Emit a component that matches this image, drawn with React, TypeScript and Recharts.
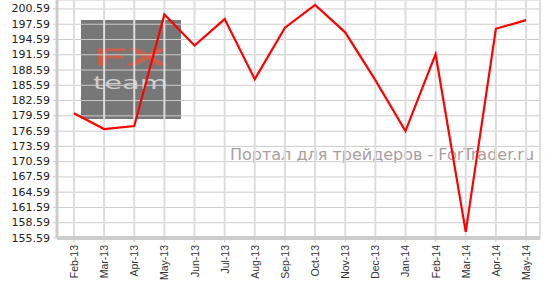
import { CartesianGrid, Line, LineChart, XAxis, YAxis } from "recharts"

const months = [
  "Feb-13", "Mar-13", "Apr-13", "May-13", "Jun-13", "Jul-13", "Aug-13", "Sep-13",
  "Oct-13", "Nov-13", "Dec-13", "Jan-14", "Feb-14", "Mar-14", "Apr-14", "May-14",
]

const prices = [
  180.1, 177.0, 177.6, 199.5, 193.4, 198.6, 186.8, 196.9,
  201.4, 196.0, 186.6, 176.6, 191.7, 156.8, 196.7, 198.4,
]

const yTicks = [
  155.59, 158.59, 161.59, 164.59, 167.59, 170.59, 173.59, 176.59,
  179.59, 182.59, 185.59, 188.59, 191.59, 194.59, 197.59, 200.59,
]

const data = months.map((m, i) => ({ month: m, price: prices[i] }))

function MonthTick({ x, y, payload }: { x?: number; y?: number; payload?: { value: string } }) {
  return (
    <text
      transform={`translate(${x},${(y ?? 0) + 1}) rotate(-90)`}
      textAnchor="end"
      dominantBaseline="central"
      fontFamily="'Liberation Sans', Arial, sans-serif"
      fontSize={10.5}
      fill="#333"
    >
      {payload?.value}
    </text>
  )
}

function PriceTick({ x, y, payload }: { x?: number; y?: number; payload?: { value: number } }) {
  return (
    <text
      x={(x ?? 0) - 1}
      y={y}
      textAnchor="end"
      dominantBaseline="central"
      fontFamily="'DejaVu Sans', Verdana, sans-serif"
      fontSize={11}
      fill="#222"
    >
      {payload?.value.toFixed(2)}
    </text>
  )
}

export default function App() {
  return (
    <div style={{ position: "absolute", left: 0, top: 0, width: 546, height: 287, background: "#fff" }}>
      {/* watermark, under the grid */}
      <svg width={546} height={287} style={{ position: "absolute", left: 0, top: 0 }}>
        <rect x={81} y={20} width={100} height={99} fill="#777" />
        <text
          x={93}
          y={65}
          textLength={74}
          lengthAdjust="spacingAndGlyphs"
          fontFamily="'DejaVu Sans', sans-serif"
          fontSize={20.5}
          fill="#c8604e"
          stroke="#c8604e"
          strokeWidth={1.2}
        >
          FX
        </text>
        <text
          x={93}
          y={89}
          textLength={75}
          lengthAdjust="spacingAndGlyphs"
          fontFamily="'DejaVu Sans', sans-serif"
          fontSize={18}
          fill="#cfcfcf"
        >
          team
        </text>
        <text
          x={230}
          y={160}
          fontFamily="'DejaVu Sans', Verdana, sans-serif"
          fontSize={16}
          fill="#a99e9e"
        >
          Портал для трейдеров - ForTrader.ru
        </text>
      </svg>
      <div style={{ position: "absolute", left: 0, top: 0 }}>
        <LineChart width={546} height={287} data={data} margin={{ top: 0, right: 6, left: 0, bottom: 0 }}>
          <CartesianGrid stroke="#ccc" vertical={false} />
          <CartesianGrid stroke="#ddd" strokeWidth={2} horizontal={false} />
          <XAxis
            dataKey="month"
            interval={0}
            padding={{ left: 17, right: 14 }}
            height={49}
            tick={<MonthTick />}
            tickSize={4}
            stroke="#ccc"
            axisLine={{ stroke: "#ccc", strokeWidth: 4 }}
            tickLine={{ stroke: "#ccc" }}
          />
          <YAxis
            type="number"
            domain={[155.59, 202.35]}
            ticks={yTicks}
            interval={0}
            width={57}
            tick={<PriceTick />}
            tickSize={4}
            axisLine={{ stroke: "#ccc", strokeWidth: 3 }}
            tickLine={{ stroke: "#ccc" }}
          />
          <Line
            type="linear"
            dataKey="price"
            stroke="#ff0000"
            strokeWidth={2.2}
            dot={false}
            isAnimationActive={false}
          />
        </LineChart>
      </div>
    </div>
  )
}
